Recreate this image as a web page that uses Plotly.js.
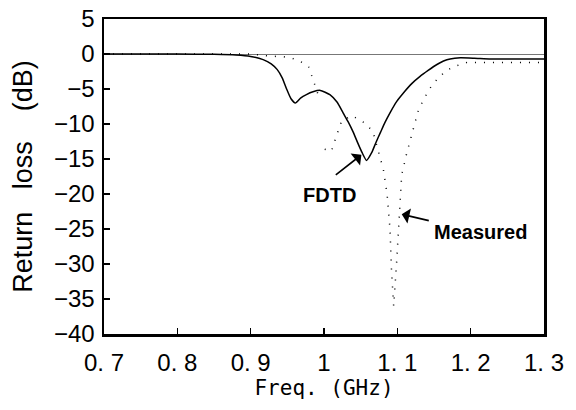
<!DOCTYPE html>
<html>
<head>
<meta charset="utf-8">
<script src="https://cdn.plot.ly/plotly-3.0.1.min.js"></script>
<style>html,body{margin:0;padding:0;background:#fff}#plot{width:576px;height:410px}</style>
</head>
<body>
<div id="plot"></div>
<script>
// FDTD (solid)
const fdtdFreq = [0.70, 0.80, 0.85, 0.88, 0.90, 0.917, 0.928, 0.936, 0.943, 0.949, 0.955, 0.961, 0.968, 0.976, 0.985, 0.995, 1.008, 1.018, 1.026, 1.033, 1.040, 1.046, 1.052, 1.058, 1.065, 1.071, 1.077, 1.083, 1.090, 1.099, 1.108, 1.120, 1.131, 1.142, 1.154, 1.163, 1.172, 1.186, 1.205, 1.227, 1.26, 1.30];
const fdtdDb   = [0, 0, -0.05, -0.15, -0.35, -0.8, -1.4, -2.2, -3.4, -5.0, -6.4, -7.0, -6.3, -5.8, -5.4, -5.2, -5.8, -6.9, -8.4, -9.7, -11.2, -12.7, -14.1, -15.2, -14.1, -12.6, -11.2, -9.8, -8.4, -6.8, -5.6, -4.2, -3.2, -2.35, -1.5, -1.0, -0.7, -0.55, -0.6, -0.7, -0.7, -0.7];

// Measured (dotted)
const measFreq = [0.70, 0.80, 0.90, 0.926, 0.945, 0.956, 0.967, 0.979, 0.983, 0.992, 0.996, 1.001, 1.010, 1.017, 1.024, 1.038, 1.058, 1.067, 1.074, 1.081, 1.086, 1.090, 1.092, 1.095, 1.099, 1.106, 1.113, 1.117, 1.124, 1.129, 1.136, 1.142, 1.149, 1.157, 1.165, 1.177, 1.195, 1.227, 1.26, 1.30];
const measDb   = [0, 0, 0, -0.3, -0.4, -0.6, -1.0, -1.8, -3.0, -5.8, null, -13.6, -13.9, -11.7, -9.6, -8.8, -10.0, -11.2, -13.9, -16.5, -20.0, -25.0, -30.8, -36.0, -29.8, -17.2, -14.1, -12.5, -10.0, -7.9, -6.5, -5.3, -4.2, -3.3, -2.5, -1.8, -1.2, -1.2, -1.2, -1.2];

const xTickVals = [0.7, 0.8, 0.9, 1.0, 1.1, 1.2, 1.3];
const xTickText = ['0. 7', '0. 8', '0. 9', '1', '1. 1', '1. 2', '1. 3'];
const yTickVals = [5, 0, -5, -10, -15, -20, -25, -30, -35, -40];

const tickFont = {family: 'Liberation Sans, Arial, sans-serif', size: 24, color: '#000'};
const labelFont = {family: 'Liberation Sans, Arial, sans-serif', size: 20, color: '#000', weight: 'bold'};

const traces = [
  {x: fdtdFreq, y: fdtdDb, mode: 'lines', name: 'FDTD',
   line: {color: '#000', width: 1.5, shape: 'spline', smoothing: 0.5}},
  {x: measFreq, y: measDb, mode: 'lines', name: 'Measured', connectgaps: false,
   line: {color: '#000', width: 1.5, dash: '1px,8px'}}
];

const layout = {
  width: 576, height: 410,
  margin: {l: 104, r: 32, t: 19, b: 76},
  paper_bgcolor: '#fff', plot_bgcolor: '#fff',
  showlegend: false,
  xaxis: {
    range: [0.7, 1.3], tickvals: xTickVals, ticktext: xTickText,
    ticks: 'inside', ticklen: 6, tickwidth: 1.2, tickcolor: '#000',
    showline: true, linecolor: '#000', linewidth: 2.5, mirror: true,
    showgrid: false, zeroline: false, tickfont: tickFont, ticklabelstandoff: 6,
    title: {text: 'Freq. (GHz)', font: {family: 'DejaVu Sans Mono, monospace', size: 21, color: '#000'}, standoff: 0}
  },
  yaxis: {
    range: [-40, 5], tickvals: yTickVals,
    ticks: 'inside', ticklen: 6, tickwidth: 1.2, tickcolor: '#000',
    showline: true, linecolor: '#000', linewidth: 2.5, mirror: true,
    showgrid: false, zeroline: true, zerolinecolor: '#777', zerolinewidth: 1,
    tickfont: tickFont, ticklabelstandoff: 2,
    title: {text: 'Return\u00a0\u00a0 loss\u00a0\u00a0\u00a0 (dB)\u00a0', font: {family: 'Liberation Sans, Arial, sans-serif', size: 27, color: '#000'}, standoff: 14}
  },
  annotations: [
    {x: 1.051, y: -14.4, ax: 1.012, ay: -17.6, xref: 'x', yref: 'y', axref: 'x', ayref: 'y',
     text: ' ', showarrow: true, arrowhead: 1, arrowsize: 1.6, arrowwidth: 1.6, arrowcolor: '#000', standoff: 0, startstandoff: 0},
    {x: 1.008, y: -20.1, xref: 'x', yref: 'y', text: 'FDTD', showarrow: false, font: labelFont},
    {x: 1.106, y: -22.9, ax: 1.147, ay: -23.9, xref: 'x', yref: 'y', axref: 'x', ayref: 'y',
     text: ' ', showarrow: true, arrowhead: 1, arrowsize: 1.6, arrowwidth: 1.6, arrowcolor: '#000', standoff: 0, startstandoff: 0},
    {x: 1.214, y: -25.4, xref: 'x', yref: 'y', text: 'Measured', showarrow: false, font: labelFont}
  ]
};

Plotly.newPlot('plot', traces, layout, {displayModeBar: false, staticPlot: true});
</script>
</body>
</html>
